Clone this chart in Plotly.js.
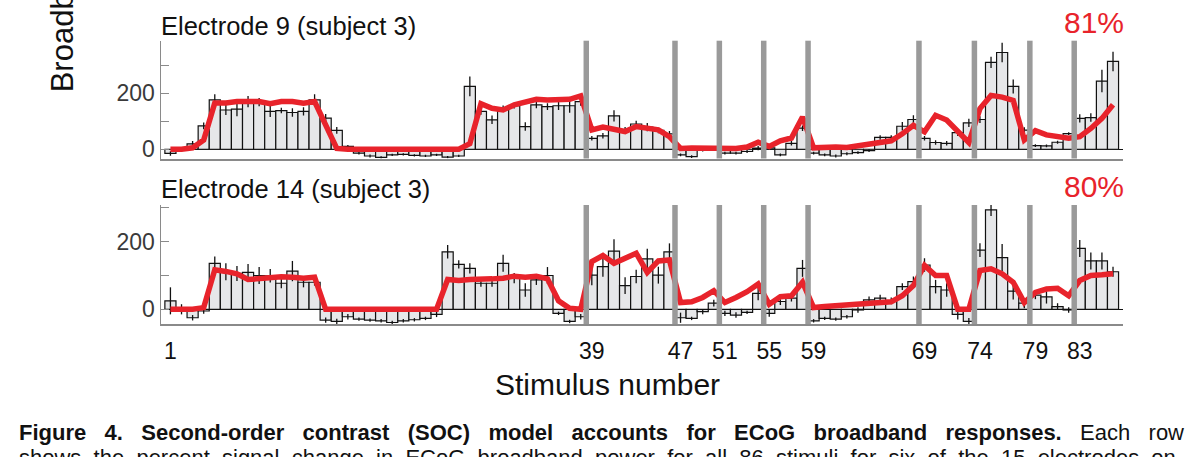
<!DOCTYPE html>
<html>
<head>
<meta charset="utf-8">
<script src="https://cdn.plot.ly/plotly-3.0.1.min.js"></script>
<style>html,body{margin:0;padding:0;background:#fff;}#chart{width:1200px;height:457px;}</style>
</head>
<body>
<div id="chart"></div>
<script>
// ---- data ----
const stimuli = Array.from({length: 86}, (_, i) => i + 1);
const groupStarts = [39, 47, 51, 55, 59, 69, 74, 79, 83];
const tickStimuli = [1, 39, 47, 51, 55, 59, 69, 74, 79, 83];

const e9Response = [-15,-3,19,83,176,140,143,170,168,135,138,131,135,176,111,67,10,-14,-24,-29,
  -20,-18,-22,-24,-20,-28,-24,224,135,105,146,155,81,158,152,155,155,170,39,48,
  119,69,90,79,67,55,-20,-26,-3,2,-14,-14,-8,4,5,-20,21,75,-14,-20,
  -24,-16,-12,-5,42,42,82,106,39,24,21,59,94,106,310,345,224,68,13,12,
  25,56,110,113,243,313];
const e9Error = [8,5,10,12,20,18,25,20,15,20,10,15,15,20,15,12,5,5,5,4,
  4,4,4,4,4,4,4,35,12,15,10,10,15,12,12,15,25,15,8,10,
  20,10,12,15,10,10,5,5,5,5,5,5,5,8,5,5,8,10,5,5,
  5,5,5,5,8,8,15,15,8,8,8,12,15,12,20,35,25,10,5,5,
  5,5,15,15,40,35];
const e9Model = [0,0,5,33,165,165,170,172,170,162,170,170,164,170,85,3,0,0,0,0,
  0,0,0,0,0,0,0,20,162,146,140,158,170,178,176,176,178,190,69,79,
  69,63,81,75,69,45,3,4,4,4,2,3,8,25,10,30,40,115,5,8,
  8,6,12,20,22,30,55,85,62,121,104,66,24,145,192,186,174,33,66,51,
  47,39,45,74,110,159];

const e14Response = [25,0,-25,-5,136,111,106,109,100,99,77,113,80,80,-32,-36,-22,-29,-32,-34,
  -39,-34,-31,-27,-15,170,133,121,77,77,136,92,57,87,100,-12,-36,-22,101,126,
  172,70,97,149,101,170,-25,-27,-7,18,-12,-17,-9,47,-12,23,33,121,-34,-27,
  -29,-22,-2,28,33,25,67,82,131,67,57,-15,-36,175,294,153,54,18,42,37,
  8,-2,180,143,143,111];
const e14Error = [40,15,8,8,20,25,22,25,25,20,15,30,15,10,8,8,8,5,5,5,
  5,5,5,5,8,20,12,15,10,10,25,15,20,15,25,5,5,8,30,30,
  35,25,20,30,25,25,15,5,8,10,8,8,5,20,10,10,10,25,5,5,
  5,5,8,10,10,10,10,15,20,20,20,15,10,20,18,40,25,15,12,20,
  10,8,25,25,25,15];
const e14Model = [0,0,0,5,117,112,105,88,92,92,96,95,92,95,0,0,0,0,0,0,
  0,0,0,0,0,88,85,88,87,90,92,98,95,98,90,25,3,0,141,159,
  136,153,166,109,143,146,20,22,35,55,20,35,52,75,15,37,40,80,5,8,
  10,12,15,18,20,22,40,70,130,100,100,0,0,115,120,105,80,20,50,60,
  62,40,85,100,102,105];

const panelTitles = ["Electrode 9 (subject 3)", "Electrode 14 (subject 3)"];
const panelFits = ["81%", "80%"];
const captionBold = "Figure 4. Second-order contrast (SOC) model accounts for ECoG broadband responses.";
const captionRest1 = "Each row";
const captionLine2 = "shows the percent signal change in ECoG broadband power for all 86 stimuli for six of the 15 electrodes on";

// ---- layout helpers ----
const W = 1200, H = 457;
const L = 160.7, R = 77;
const plotW = W - L - R;
const px = x => (x - L) / plotW;      // page x pixel -> paper
const py = y => 1 - y / H;            // page y pixel -> paper
const justify = (s, n) => s.split(' ').join(' ' + '\u00A0'.repeat(n));

const barFill = '#e6e7e9';
const red = '#e8232b';
const axisGray = '#8a8a8a';
const sepGray = '#9a9a9a';
const font = 'Liberation Sans, Arial, Helvetica, sans-serif';

function barTrace(vals, err, xa, ya) {
  return {
    type: 'bar', x: stimuli, y: vals, xaxis: xa, yaxis: ya, width: 1,
    marker: {color: barFill, line: {color: '#111', width: 1.2}},
    error_y: {type: 'data', array: err, visible: true, color: '#111', thickness: 1.3, width: 0},
    hoverinfo: 'skip', showlegend: false
  };
}
function modelTrace(vals, xa, ya) {
  return {
    type: 'scatter', mode: 'lines', x: stimuli, y: vals, xaxis: xa, yaxis: ya,
    line: {color: red, width: 5.5}, hoverinfo: 'skip', showlegend: false
  };
}

const data = [
  barTrace(e9Response, e9Error, 'x', 'y'),
  modelTrace(e9Model, 'x', 'y'),
  barTrace(e14Response, e14Error, 'x2', 'y2'),
  modelTrace(e14Model, 'x2', 'y2')
];

const shapes = [];
['x', 'x2'].forEach((xr, i) => {
  const yr = i === 0 ? 'y domain' : 'y2 domain';
  groupStarts.forEach(s => {
    shapes.push({type: 'line', xref: xr, yref: yr, x0: s - 0.5, x1: s - 0.5, y0: 0, y1: 1,
      line: {color: sepGray, width: 5.5}, layer: 'above'});
  });
});

const xRange = [0.15, 86.9];
const yAxisCommon = {
  showline: true, linecolor: axisGray, linewidth: 1.5,
  ticks: 'inside', ticklen: 8, tickcolor: axisGray, tickwidth: 1.2,
  tickvals: [0, 100, 200, 300], ticktext: ['0', '', '200', ''],
  tickfont: {family: font, size: 23, color: '#3a3a3a'},
  showgrid: false, zeroline: true, zerolinecolor: '#111', zerolinewidth: 1.3,
  fixedrange: true
};

const annotations = [
  {text: panelTitles[0], xref: 'paper', yref: 'paper', x: px(159), y: py(26), xanchor: 'left', yanchor: 'middle',
   showarrow: false, font: {family: font, size: 25.5, color: '#111'}},
  {text: panelTitles[1], xref: 'paper', yref: 'paper', x: px(159), y: py(189), xanchor: 'left', yanchor: 'middle',
   showarrow: false, font: {family: font, size: 25.5, color: '#111'}},
  {text: panelFits[0], xref: 'paper', yref: 'paper', x: px(1126), y: py(22), xanchor: 'right', yanchor: 'middle',
   showarrow: false, font: {family: font, size: 30, color: red}},
  {text: panelFits[1], xref: 'paper', yref: 'paper', x: px(1126), y: py(186), xanchor: 'right', yanchor: 'middle',
   showarrow: false, font: {family: font, size: 30, color: red}},
  {text: 'Broadband power (% change)', xref: 'paper', yref: 'paper', x: px(62), y: py(94), xanchor: 'center', yanchor: 'bottom',
   textangle: -90, showarrow: false, font: {family: font, size: 31, color: '#111'}},
  {text: 'Stimulus number', xref: 'paper', yref: 'paper', x: px(607), y: py(384), xanchor: 'center', yanchor: 'middle',
   showarrow: false, font: {family: font, size: 30, color: '#111'}},
  {text: '<b>' + justify(captionBold, 2) + '</b>' + ' \u00A0\u00A0' + justify(captionRest1, 2),
   xref: 'paper', yref: 'paper', x: px(17), y: py(432), xanchor: 'left', yanchor: 'middle',
   showarrow: false, font: {family: font, size: 22, color: '#111'}},
  {text: justify(captionLine2, 1),
   xref: 'paper', yref: 'paper', x: px(17), y: py(457), xanchor: 'left', yanchor: 'middle',
   showarrow: false, font: {family: font, size: 22, color: '#111'}}
];

const layout = {
  width: W, height: H,
  margin: {l: L, r: R, t: 0, b: 0, pad: 0},
  paper_bgcolor: '#fff', plot_bgcolor: '#fff',
  bargap: 0, barmode: 'overlay', showlegend: false,
  xaxis: {domain: [0, 1], anchor: 'y', range: xRange, showline: true, linecolor: axisGray, linewidth: 2,
    ticks: '', showticklabels: false, showgrid: false, zeroline: false, fixedrange: true},
  yaxis: Object.assign({}, yAxisCommon, {domain: [py(158.5), py(40.7)], anchor: 'x', range: [-33, 387]}),
  xaxis2: {domain: [0, 1], anchor: 'y2', range: xRange, showline: true, linecolor: axisGray, linewidth: 2,
    ticks: 'outside', ticklen: 5, tickcolor: 'rgba(0,0,0,0)', tickvals: tickStimuli,
    ticktext: tickStimuli.map(String), tickfont: {family: font, size: 23, color: '#111'},
    showgrid: false, zeroline: false, fixedrange: true},
  yaxis2: Object.assign({}, yAxisCommon, {domain: [py(324), py(205)], anchor: 'x2', range: [-43.5, 308.5]}),
  shapes: shapes,
  annotations: annotations
};

Plotly.newPlot('chart', data, layout, {displayModeBar: false, staticPlot: true});
</script>
</body>
</html>
